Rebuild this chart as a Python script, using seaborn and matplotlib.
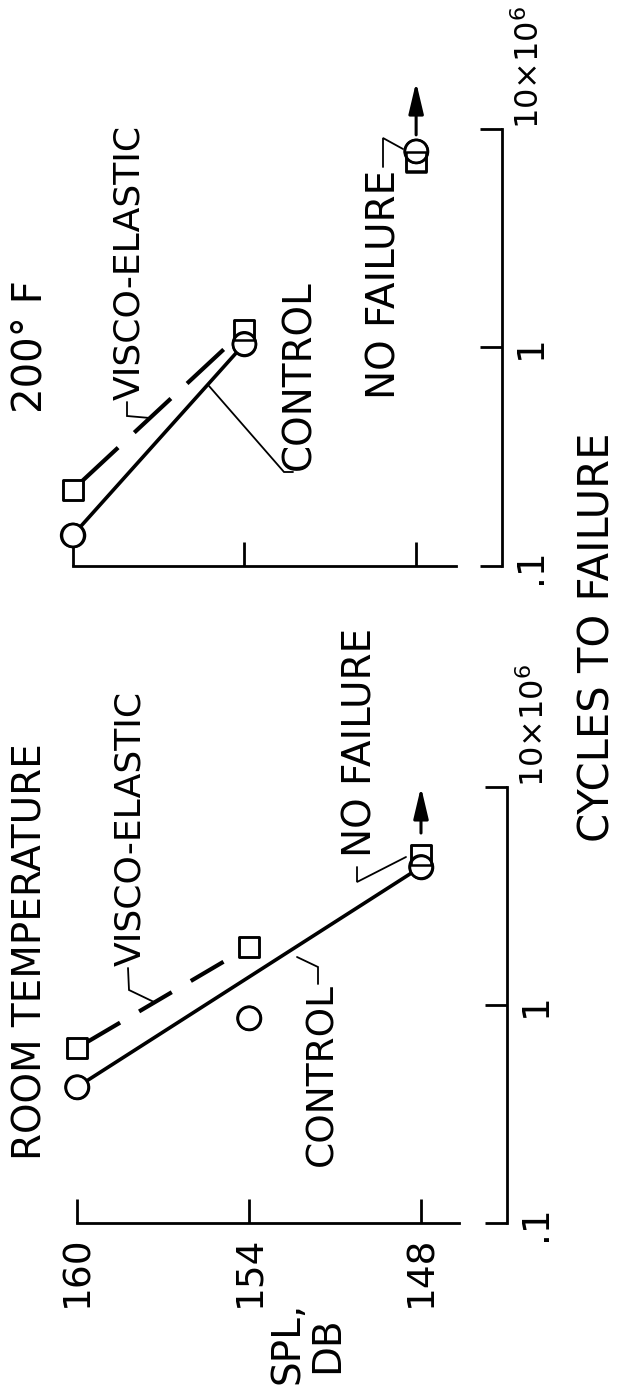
import matplotlib
matplotlib.use("Agg")
import matplotlib.pyplot as plt
import seaborn as sns
from matplotlib.ticker import FixedLocator, FixedFormatter, NullLocator

# ---------------- data ----------------
spl_db = [160, 154, 148]
spl_tick_labels = ["160", "154", "148"]
cycle_ticks = [0.1, 1, 10]
cycle_tick_labels = [".1", "1", r"10$\times$10$^6$"]

# cycles to failure (millions) at 160, 154, 148 dB
room_control = [0.42, 0.87, 4.3]
room_visco = [0.635, 1.85, 4.9]
hot_control = [0.138, 1.04, 7.9]
hot_visco = [0.223, 1.2, 7.1]

# "no failure" run-out arrows at 148 dB (tail, tip) in cycles
runout_spl = [148, 148]
room_runout = [6.15, 10.0]
hot_runout = [9.4, 16.4]

# ---------------- style ----------------
sns.set_theme(style="white")
plt.rcParams["font.family"] = ["DejaVu Sans"]
plt.rcParams["mathtext.fontset"] = "dejavusans"

W, H = 622, 1392
fig = plt.figure(figsize=(W / 100, H / 100), dpi=100)


def axes_px(left, right, top, bottom):
    return fig.add_axes([left / W, 1 - bottom / H, (right - left) / W, (bottom - top) / H])


def draw_panel(ax, control, visco, control_idx, visco_idx, dash, runout, ylim_top,
               spl_end, show_spl_labels):
    ax.set_yscale("log")
    sns.lineplot(x=[spl_db[i] for i in control_idx], y=[control[i] for i in control_idx],
                 ax=ax, color="black", linewidth=2.6, sort=False, zorder=2)
    sns.lineplot(x=[spl_db[i] for i in visco_idx], y=[visco[i] for i in visco_idx],
                 ax=ax, color="black", linewidth=3.0, sort=False, linestyle=dash, zorder=2)
    sns.scatterplot(x=spl_db, y=visco, marker="s", s=207, color="white",
                    edgecolor="black", linewidth=1.8, ax=ax, zorder=3, clip_on=False)
    sns.scatterplot(x=spl_db, y=control, marker="o", s=275, color="white",
                    edgecolor="black", linewidth=1.8, ax=ax, zorder=3, clip_on=False)
    sns.scatterplot(x=spl_db, y=visco, marker="s", s=207, facecolors="none",
                    edgecolor="black", linewidth=1.8, ax=ax, zorder=4, clip_on=False)
    sns.scatterplot(x=spl_db, y=control, marker="o", s=275, facecolors="none",
                    edgecolor="black", linewidth=1.8, ax=ax, zorder=4, clip_on=False)
    ax.annotate("", xy=(runout_spl[1], runout[1]), xytext=(runout_spl[0], runout[0]),
                arrowprops=dict(arrowstyle="-|>,head_length=1.9,head_width=0.45",
                                mutation_scale=10, lw=2.2, color="black",
                                shrinkA=0, shrinkB=0),
                annotation_clip=False)

    ax.set_xlim(161, 145)
    ax.set_ylim(0.1, ylim_top)
    ax.set_facecolor("none")
    ax.grid(False)
    ax.set_xlabel("")
    ax.set_ylabel("")
    for s in ("top", "left"):
        ax.spines[s].set_visible(False)
    for s in ("bottom", "right"):
        ax.spines[s].set_visible(True)
        ax.spines[s].set_linewidth(2.0)
        ax.spines[s].set_color("black")
    ax.spines["bottom"].set_bounds(160, spl_end)
    ax.spines["right"].set_bounds(0.1, 10)

    ax.xaxis.set_major_locator(FixedLocator(spl_db))
    ax.xaxis.set_major_formatter(FixedFormatter(spl_tick_labels))
    ax.yaxis.set_major_locator(FixedLocator(cycle_ticks))
    ax.yaxis.set_major_formatter(FixedFormatter(cycle_tick_labels))
    ax.yaxis.set_minor_locator(NullLocator())
    ax.xaxis.set_minor_locator(NullLocator())
    ax.yaxis.tick_right()
    ax.tick_params(axis="x", which="major", direction="in", length=17, width=2,
                   color="black", labelcolor="black", labelsize=27, pad=9,
                   labelrotation=90, bottom=True, top=False, labelbottom=show_spl_labels)
    ax.tick_params(axis="y", which="major", direction="in", length=16, width=2,
                   color="black", labelcolor="black", labelsize=27, pad=8,
                   labelrotation=90, right=True, left=False,
                   labelright=True, labelleft=False)
    ylabels = ax.get_yticklabels()
    ylabels[0].set_va("center")
    ylabels[1].set_va("center")
    ylabels[2].set_va("bottom")
    ylabels[2].set_fontsize(23)
    for lb in ax.get_xticklabels():
        lb.set_ha("center")
        lb.set_va("top")


# Room temperature panel (lower in the rotated page)
ax_room = axes_px(48.3, 507, 1223 - 2.05 * 218, 1223)
draw_panel(ax_room, room_control, room_visco, [0, 2], [0, 1],
           (11.5, (9.1, 5.3)), room_runout, 10 ** 1.05, 146.67, True)

# 200 deg F panel (upper)
ax_hot = axes_px(44, 502, 566 - 2.3 * 218.5, 566)
draw_panel(ax_hot, hot_control, hot_visco, [0, 1], [0, 1],
           (14.4, (12.0, 5.3)), hot_runout, 10 ** 1.3, 146.6, False)

# ---------------- annotation layer (page pixels) ----------------
ov = fig.add_axes([0, 0, 1, 1])
ov.set_xlim(0, W)
ov.set_ylim(H, 0)
ov.set_axis_off()


def label(px, py, s, size, va="bottom"):
    ov.text(px + 3, py, s, rotation=90, ha="center", va=va, fontsize=size, color="black")


def leader(pts):
    ov.plot([p[0] for p in pts], [p[1] for p in pts], color="black", lw=1.3,
            solid_joinstyle="miter")


# room temperature
label(28, 1160, "ROOM TEMPERATURE", 28)
label(127, 966, "VISCO-ELASTIC", 26)
leader([(128, 968), (129, 990), (154, 1002)])
label(319, 983, "CONTROL", 27, va="top")
leader([(318, 984), (318, 967), (297, 957)])
label(358, 857, "NO FAILURE", 28)
leader([(357, 867), (357, 882), (406, 857)])

# 200 F
label(28, 413, "200° F", 29)
label(126, 400, "VISCO-ELASTIC", 26)
leader([(127, 402), (127, 416), (150, 418)])
label(296, 470, "CONTROL", 28)
leader([(293, 472), (284, 472), (209, 386)])
label(382, 399, "NO FAILURE", 28)
leader([(383, 167), (383, 138), (403, 149)])

# axis titles
label(594, 637, "CYCLES TO FAILURE", 30, va="center")
label(285, 1384, "SPL,", 28)
label(324, 1373, "DB", 28)

fig.savefig("out.png", dpi=100)
